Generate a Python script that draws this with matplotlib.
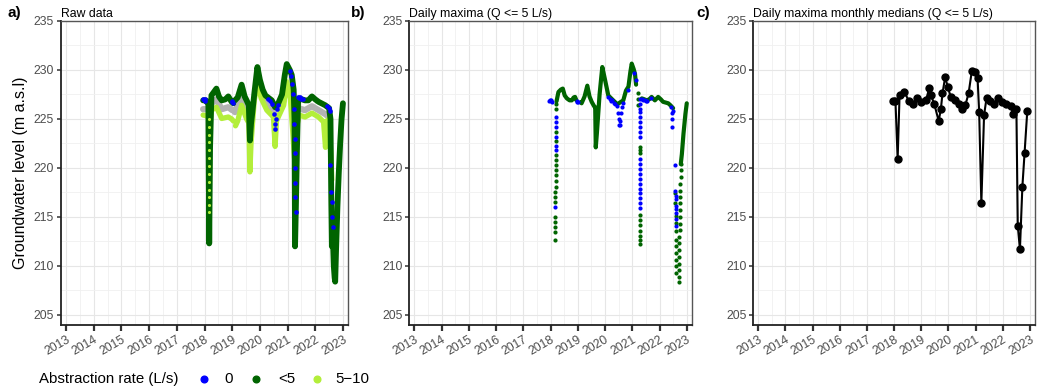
import numpy as np
import matplotlib
matplotlib.use("Agg")
import matplotlib.pyplot as plt
from matplotlib.lines import Line2D

plt.rcParams['font.family'] = ['Liberation Sans', 'DejaVu Sans']

nan = np.nan

YEARS = list(range(2013, 2024))
Y_TICKS = [205, 210, 215, 220, 225, 230, 235]
PANEL_TAGS = ['a)', 'b)', 'c)']
PANEL_TITLES = ['Raw data', 'Daily maxima (Q <= 5 L/s)',
                'Daily maxima monthly medians (Q <= 5 L/s)']
Y_LABEL = 'Groundwater level (m a.s.l)'
LEGEND_TITLE = 'Abstraction rate (L/s)'
RATE_LABELS = ['0', '<5', '5\u221210']
RATE_COLORS = ['#0000FF', '#006400', '#B3EE3A']
GREY = '#B3B3B3'

# ---- panel a: raw data ----
A_DG_YEAR = [2017.95, 2018.05, 2018.14, 2018.17, 2018.2, 2018.25, 2018.43, 2018.52, 2018.62,
             2018.75, 2018.86, 2018.98, 2019.04, 2019.07, 2019.1, 2019.2, 2019.34, 2019.45,
             2019.52, 2019.6, 2019.64, 2019.68, 2019.74, 2019.8, 2019.91, 2020.0, 2020.1,
             2020.2, 2020.43, 2020.55, 2020.65, 2020.8, 2020.9, 2020.97, 2021.08, 2021.15,
             2021.22, 2021.25, 2021.27, 2021.3, 2021.34, 2021.38, 2021.42, 2021.63, 2021.75,
             2021.88, 2022.0, 2022.12, 2022.36, 2022.5, 2022.55, 2022.58, 2022.6, 2022.63,
             2022.67, 2022.7, 2022.72, 2022.75, 2022.8, 2022.85, 2022.9, 2022.95, 2023.0]
A_DG_LEVEL = [226.9, 226.9, 226.5, 212.3, 222.0, 227.4, 228.1, 227.3, 226.9,
              227.0, 227.3, 226.75, 226.6, nan, 226.9, 227.2, 228.5, 227.3,
              226.9, 226.4, 222.8, 224.5, 226.0, 227.6, 230.3, 229.0, 228.0,
              227.4, 226.9, 226.2, 226.5, 227.5, 229.5, 230.6, 230.0, 229.5,
              228.0, 225.0, 212.0, 216.0, 222.0, 226.8, 227.1, 226.9, 226.9,
              227.3, 227.0, 226.75, 226.4, 226.1, 225.0, 216.5, 212.0, 213.5,
              210.0, 208.8, 208.4, 211.5, 216.0, 219.5, 222.5, 225.0, 226.6]

A_LG_YEAR = [2017.95, 2018.1, 2018.15, 2018.17, 2018.19, 2018.25, 2018.43, 2018.62, 2018.86,
             2018.98, 2019.04, 2019.07, 2019.12, 2019.2, 2019.34, 2019.52, 2019.6, 2019.64,
             2019.68, 2019.8, 2019.91, 2020.05, 2020.25, 2020.49, 2020.55, 2020.6, 2020.73,
             2020.86, 2020.97, 2021.1, 2021.18, 2021.25, 2021.3, 2021.35, 2021.42, 2021.63,
             2021.88, 2022.12, 2022.3, 2022.37, 2022.42, 2022.5, 2022.55, 2022.6]
A_LG_LEVEL = [225.4, 225.3, 225.2, 215.7, 224.5, 225.9, 226.2, 225.05, 225.2,
              225.0, 224.8, nan, 224.3, 224.8, 226.4, 225.0, 224.6, 219.6,
              222.5, 227.0, 228.6, 227.1, 225.9, 225.2, 222.2, 224.8, 225.6,
              226.4, 228.8, 227.1, 224.0, 221.0, nan, 224.5, 225.4, 225.2,
              225.6, 225.2, 224.7, 222.1, 224.8, 225.0, 222.0, 218.8]

A_GREY_YEAR = [2017.95, 2018.1, 2018.17, 2018.25, 2018.43, 2018.62, 2018.86, 2019.0, 2019.05,
               2019.1, 2019.34, 2019.52, 2019.6, 2019.8, 2020.05, 2020.2, 2020.43, 2020.53,
               2020.6, 2020.7, 2020.85, 2021.0, 2021.38, 2021.63, 2021.88, 2022.12, 2022.36,
               2022.5]
A_GREY_LEVEL = [226.0, 226.0, nan, 226.6, 227.0, 226.0, 226.2, 225.9, nan,
                225.7, 227.3, 225.9, 225.5, nan, 228.0, 226.5, 225.9, 225.6,
                nan, 226.2, 226.8, nan, 226.1, 225.9, 226.3, 225.9, 225.5,
                225.2]

A_DG_DOT_YEAR = [2018.18] * 13
A_DG_DOT_LEVEL = [225.0, 224.2, 223.4, 222.6, 221.8, 221.0, 220.2, 219.4, 218.6, 217.8,
                  217.0, 216.2, 215.5]

A_BLUE_YEAR = [2017.95, 2017.97, 2018.0, 2018.03, 2018.98, 2019.0, 2019.02,
               2020.3, 2020.38, 2020.45, 2020.5, 2020.53, 2020.55, 2020.58, 2020.62, 2020.66,
               2021.08, 2021.12, 2021.16, 2021.2, 2021.24, 2021.25, 2021.26, 2021.27, 2021.27,
               2021.28, 2021.28, 2021.29,
               2021.38, 2021.42, 2021.46, 2021.5, 2021.55,
               2022.44, 2022.48, 2022.52, 2022.55, 2022.58, 2022.6, 2022.62, 2022.64]
A_BLUE_LEVEL = [227.0, 226.9, 227.0, 226.8, 226.8, 226.7, 226.6,
                227.0, 226.8, 226.5, 225.5, 224.5, 224.0, 225.0, 226.0, 226.4,
                229.9, 229.4, 228.6, 227.5, 226.0, 224.5, 223.0, 221.5, 220.0,
                218.5, 217.0, 215.5,
                227.2, 227.1, 227.2, 227.0, 227.0,
                226.3, 226.1, 225.8, 220.3, 217.5, 216.5, 215.0, 214.0]

# ---- panel b: daily maxima (Q <= 5 L/s) ----
B_DG_YEAR = [2018.22, 2018.29, 2018.38, 2018.45, 2018.52, 2018.6, 2018.7, 2018.78, 2018.85,
             2018.9, 2018.95, 2019.03, 2019.1, 2019.14, 2019.25, 2019.35, 2019.43, 2019.51,
             2019.6, 2019.64, 2019.66, 2019.7, 2019.75, 2019.8, 2019.86, 2019.9, 2020.0,
             2020.06, 2020.12, 2020.3, 2020.45, 2020.67, 2020.77, 2020.86, 2020.93, 2020.98,
             2021.05, 2021.1, 2021.14, 2021.2, 2021.35, 2021.45, 2021.52, 2021.62, 2021.71,
             2021.83, 2021.95, 2022.05, 2022.13, 2022.32, 2022.4, 2022.5, 2022.6, 2022.78,
             2022.82, 2022.88, 2022.95, 2023.0]
B_DG_LEVEL = [226.8, 227.75, 228.0, 228.1, 227.4, 227.1, 226.9, 226.9, 227.2,
              227.25, 226.9, nan, 226.7, 226.6, 227.3, 228.4, 227.3, 226.75,
              226.3, 226.2, 222.1, 223.5, 225.5, 227.5, 229.2, 230.3, 229.0,
              228.2, 227.4, 226.9, 226.5, 226.9, 227.9, 228.3, 229.8, 230.65,
              230.1, 229.6, 228.5, nan, 227.1, 227.0, 226.9, 227.0, 227.25,
              226.9, 227.25, 227.0, 226.75, 226.6, 226.4, 226.1, nan, 220.4,
              221.4, 223.5, 225.5, 226.6]

B_DG_DOT_YEAR = [2018.19, 2018.19, 2018.19, 2018.19, 2018.19, 2018.19, 2018.19, 2018.19,
                 2018.19, 2018.19, 2018.19, 2018.18, 2018.18, 2018.18, 2018.18, 2018.18,
                 2018.18, 2018.18, 2018.18,
                 2021.2, 2021.21, 2021.22, 2021.27, 2021.27, 2021.27, 2021.28, 2021.28,
                 2021.28, 2021.28, 2021.28, 2021.28, 2021.28,
                 2022.58, 2022.58, 2022.59, 2022.59, 2022.6, 2022.6, 2022.6, 2022.61,
                 2022.61, 2022.62, 2022.62,
                 2022.7, 2022.7, 2022.71, 2022.71, 2022.72, 2022.72, 2022.73, 2022.73,
                 2022.74, 2022.74, 2022.75, 2022.75, 2022.76, 2022.76, 2022.77, 2022.77,
                 2022.78, 2022.78, 2022.78]
B_DG_DOT_LEVEL = [226.56, 226.05, 223.7, 222.8, 221.3, 220.8, 220.3, 219.8, 219.25,
                  218.7, 218.1, 217.55, 217.0, 216.5, 215.0, 214.5, 214.0, 213.5,
                  212.6,
                  227.7, 227.0, 226.4, 222.1, 221.8, 221.5, 215.2, 214.7,
                  214.15, 213.6, 213.1, 212.6, 212.25,
                  217.4, 216.4, 215.1, 214.4, 213.6, 212.6, 212.0, 211.3,
                  210.6, 210.0, 209.3,
                  208.4, 208.9, 209.6, 210.25, 210.9, 211.6, 212.3, 213.0,
                  213.65, 214.3, 215.0, 215.7, 216.4, 217.0, 217.7, 218.4,
                  219.1, 219.8, 220.4]

B_BLUE_YEAR = [2017.96, 2017.98, 2018.0, 2018.02, 2018.04,
               2018.19, 2018.19, 2018.19, 2018.19, 2018.19, 2018.19, 2018.18,
               2018.96, 2018.98, 2019.0,
               2020.12, 2020.17, 2020.22, 2020.27, 2020.32, 2020.38, 2020.44, 2020.48,
               2020.5, 2020.52, 2020.54, 2020.56, 2020.59, 2020.62, 2020.66, 2020.86,
               2021.08, 2021.12,
               2021.3, 2021.3, 2021.3, 2021.3, 2021.3, 2021.3, 2021.3, 2021.3, 2021.3,
               2021.3, 2021.3, 2021.3, 2021.3, 2021.3, 2021.3, 2021.3, 2021.3, 2021.3,
               2021.3, 2021.3,
               2021.35, 2021.4, 2021.45, 2021.5, 2021.55, 2021.7,
               2022.42, 2022.44, 2022.44, 2022.46, 2022.48,
               2022.57, 2022.58, 2022.59, 2022.59, 2022.6, 2022.6, 2022.61, 2022.62, 2022.62]
B_BLUE_LEVEL = [226.8, 226.9, 226.9, 226.8, 226.7,
                225.2, 224.7, 224.2, 223.2, 222.2, 221.8, 216.0,
                226.75, 226.8, 226.7,
                227.2, 227.0, 226.8, 226.9, 226.6, 226.5, 226.3, 225.6,
                225.0, 224.4, 224.35, 224.8, 225.6, 226.2, 226.6, 228.0,
                229.7, 229.0,
                227.07, 226.56, 226.05, 225.7, 225.2, 224.7, 224.2, 223.7, 223.2,
                220.95, 220.45, 219.9, 219.4, 218.9, 218.4, 217.9, 217.4, 216.9,
                216.4, 215.9,
                227.0, 226.9, 226.9, 226.8, 226.8, 227.1,
                226.2, 225.6, 224.2, 225.0, 225.8,
                220.3, 217.6, 217.1, 216.8, 216.1, 215.8, 215.4, 214.8, 214.1]

# ---- panel c: monthly medians of daily maxima ----
C_YEAR = [2017.95, 2018.05, 2018.13, 2018.2, 2018.38, 2018.54, 2018.68, 2018.83, 2018.99,
          2019.17, 2019.3, 2019.36, 2019.48, 2019.64, 2019.72, 2019.78, 2019.88, 2019.97,
          2020.09, 2020.25, 2020.4, 2020.5, 2020.62, 2020.74, 2020.86, 2020.98, 2021.07,
          2021.13, 2021.21, 2021.31, 2021.4, 2021.52, 2021.68, 2021.84, 2021.98, 2022.13,
          2022.29, 2022.38, 2022.5, 2022.55, 2022.63, 2022.72, 2022.8, 2022.9]
C_LEVEL = [226.8, 226.8, 220.9, 227.4, 227.8, 226.8, 226.5, 227.1, 226.7,
           226.9, 228.2, 227.4, 226.5, 224.8, 226.0, 227.6, 229.3, 228.3,
           227.2, 226.9, 226.5, 226.0, 226.4, 227.6, 229.9, 229.8, 229.2,
           225.7, 216.4, 225.4, 227.1, 226.8, 226.5, 227.1, 226.7, 226.5,
           226.3, 225.5, 226.0, 214.1, 211.7, 218.1, 221.5, 225.8]

fig = plt.figure(figsize=(10.41, 3.92), dpi=100)
boxes = [[0.0586, 0.171, 0.2757, 0.7755],
         [0.3932, 0.171, 0.2713, 0.7755],
         [0.7236, 0.171, 0.2706, 0.7755]]
axes = [fig.add_axes(b) for b in boxes]


def style_axes(ax):
    ax.set_xlim(2012.817, 2023.183)
    ax.set_ylim(203.98, 235.0)
    ax.set_xticks(YEARS)
    ax.set_xticklabels([str(y) for y in YEARS], rotation=30, ha='right', va='top',
                       rotation_mode='anchor')
    ax.set_xticks([y + 0.5 for y in YEARS[:-1]], minor=True)
    ax.set_yticks(Y_TICKS)
    ax.set_yticks([t + 2.5 for t in Y_TICKS[:-1]], minor=True)
    ax.grid(which='major', color='#E6E6E6', lw=0.8)
    ax.grid(which='minor', color='#F0F0F0', lw=0.6)
    ax.set_axisbelow(True)
    ax.tick_params(which='minor', length=0)
    ax.tick_params(axis='y', which='major', length=3, width=1.1, color='#333333',
                   labelsize=8.8, labelcolor='#4D4D4D', pad=2)
    ax.tick_params(axis='x', which='major', length=4.5, width=1.6, color='#333333',
                   labelsize=8.8, labelcolor='#4D4D4D', pad=2)
    for side in ['left', 'bottom']:
        ax.spines[side].set_color('#222222')
        ax.spines[side].set_linewidth(1.3)
    for side in ['top', 'right']:
        ax.spines[side].set_color('#555555')
        ax.spines[side].set_linewidth(1.0)


for ax, title in zip(axes, PANEL_TITLES):
    style_axes(ax)
    ax.set_title(title, loc='left', fontsize=8.8, pad=3)

# panel a
ax = axes[0]
ax.plot(A_GREY_YEAR, A_GREY_LEVEL, color=GREY, lw=4.5, solid_capstyle='round', zorder=2)
ax.plot(A_LG_YEAR, A_LG_LEVEL, color=RATE_COLORS[2], lw=3.8, solid_capstyle='round',
        solid_joinstyle='round', zorder=3)
ax.plot(A_DG_YEAR, A_DG_LEVEL, color=RATE_COLORS[1], lw=4.2, solid_capstyle='round',
        solid_joinstyle='round', zorder=4)
ax.scatter(A_DG_DOT_YEAR, A_DG_DOT_LEVEL, s=5, color=RATE_COLORS[2], lw=0, zorder=5)
ax.scatter(A_BLUE_YEAR, A_BLUE_LEVEL, s=11, color=RATE_COLORS[0], lw=0, zorder=6)
ax.set_ylabel(Y_LABEL, fontsize=11.5, labelpad=4)

# panel b
ax = axes[1]
ax.plot(B_DG_YEAR, B_DG_LEVEL, color=RATE_COLORS[1], lw=3.0, solid_capstyle='round',
        solid_joinstyle='round', zorder=3)
ax.scatter(B_DG_DOT_YEAR, B_DG_DOT_LEVEL, s=9, color=RATE_COLORS[1], lw=0, zorder=4)
ax.scatter(B_BLUE_YEAR, B_BLUE_LEVEL, s=9, color=RATE_COLORS[0], lw=0, zorder=5)

# panel c
ax = axes[2]
ax.plot(C_YEAR, C_LEVEL, color='black', lw=1.5, marker='o', ms=5, zorder=3)

# panel tags
for tag, xpix in zip(PANEL_TAGS, [8, 351, 696]):
    fig.text(xpix / 1041, 1 - 13 / 392, tag, fontsize=11, fontweight='bold', va='center')

# legend along the bottom
ly = 1 - 379 / 392
fig.text(39 / 1041, ly, LEGEND_TITLE, fontsize=10.8, va='center')
for lab, col, dx, tx in zip(RATE_LABELS, RATE_COLORS, [204, 256, 317], [224, 278, 335]):
    fig.add_artist(Line2D([dx / 1041], [ly], marker='o', ms=4.8, color=col, lw=0,
                          transform=fig.transFigure))
    fig.text(tx / 1041, ly, lab, fontsize=10.8, va='center')

fig.savefig('out.png', dpi=100)
